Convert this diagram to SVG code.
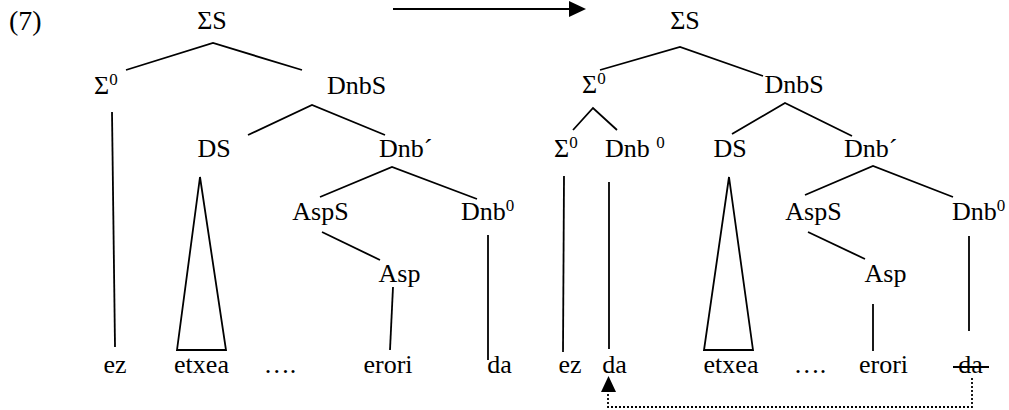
<svg xmlns="http://www.w3.org/2000/svg" width="1009" height="410" viewBox="0 0 1009 410">
<style>
text{font-family:"Liberation Serif","Times New Roman",serif;font-size:26px;fill:#000}
.m{text-anchor:middle}
.sup{font-size:17px}
line,polyline,polygon.tri{stroke:#000;stroke-width:1.8;fill:none}
</style>
<rect width="1009" height="410" fill="#fff"/>
<text x="9" y="30" style="font-size:28px">(7)</text>
<g id="arrow"><line x1="393" y1="9" x2="572" y2="9" stroke-width="3.5"/><polygon points="569,1 586,9 569,17" fill="#000"/></g>

<g id="left-nodes">
<g id="L-SigmaS"><text class="m" x="212" y="29">ΣS</text></g>
<g id="L-Sigma0"><text x="94" y="94">Σ<tspan class="sup" dy="-9">0</tspan></text></g>
<g id="L-DnbS"><text x="327" y="94">DnbS</text></g>
<g id="L-DS"><text class="m" x="214" y="157">DS</text></g>
<g id="L-DnbBar"><text x="379" y="157">Dnb´</text></g>
<g id="L-AspS"><text class="m" x="320.5" y="220">AspS</text></g>
<g id="L-Dnb0"><text x="461" y="220">Dnb<tspan class="sup" dy="-9">0</tspan></text></g>
<g id="L-Asp"><text class="m" x="399.5" y="282">Asp</text></g>
<g id="L-ez"><text class="m" x="115" y="373">ez</text></g>
<g id="L-etxea"><text class="m" x="201.5" y="373">etxea</text></g>
<g id="L-dots"><text class="m" x="280" y="373">….</text></g>
<g id="L-erori"><text class="m" x="388" y="373">erori</text></g>
<g id="L-da"><text class="m" x="499.5" y="373">da</text></g>
</g>

<g id="right-nodes">
<g id="R-SigmaS"><text class="m" x="685" y="29">ΣS</text></g>
<g id="R-Sigma0"><text x="582" y="93">Σ<tspan class="sup" dy="-9">0</tspan></text></g>
<g id="R-DnbS"><text class="m" x="794" y="93">DnbS</text></g>
<g id="R-Sigma0b"><text x="554" y="157">Σ<tspan class="sup" dy="-9">0</tspan></text></g>
<g id="R-Dnb0a"><text x="605" y="157">Dnb <tspan class="sup" dy="-9">0</tspan></text></g>
<g id="R-DS"><text class="m" x="730" y="157">DS</text></g>
<g id="R-DnbBar"><text x="844" y="157">Dnb´</text></g>
<g id="R-AspS"><text class="m" x="813.5" y="220">AspS</text></g>
<g id="R-Dnb0"><text x="952" y="220">Dnb<tspan class="sup" dy="-9">0</tspan></text></g>
<g id="R-Asp"><text class="m" x="885.5" y="282">Asp</text></g>
<g id="R-ez"><text class="m" x="570" y="373">ez</text></g>
<g id="R-da"><text class="m" x="614.5" y="373">da</text></g>
<g id="R-etxea"><text class="m" x="731" y="373">etxea</text></g>
<g id="R-dots"><text class="m" x="810" y="373">….</text></g>
<g id="R-erori"><text class="m" x="883.5" y="373">erori</text></g>
<g id="R-da2"><text class="m" x="970.5" y="373">da</text><line x1="953" y1="367" x2="989" y2="367"/></g>
</g>

<g id="connectors">
<polyline points="126,70 213,43 302,70"/>
<line x1="112" y1="112" x2="115" y2="347"/>
<polyline points="248,135 312,105 385,135"/>
<polygon class="tri" points="200,177 177,350 226,350"/>
<polyline points="320,197 392,167 477,199"/>
<line x1="322" y1="232" x2="380" y2="260"/>
<line x1="393" y1="287" x2="390" y2="350"/>
<line x1="488" y1="235" x2="488" y2="360"/>
<polyline points="600,70 680,47 763,76"/>
<polyline points="573,130 593,108 617,130"/>
<line x1="564" y1="176" x2="563" y2="352"/>
<line x1="609" y1="182" x2="609" y2="349"/>
<polyline points="732,134 785,103 852,136"/>
<polygon class="tri" points="729,177 704,350 753,350"/>
<polyline points="805,195 873,166 953,197"/>
<line x1="808" y1="232" x2="865" y2="259"/>
<line x1="873" y1="304" x2="873" y2="351"/>
<line x1="969" y1="236" x2="969" y2="331"/>
<polyline points="972,378 972,407 608,407 608,390" stroke-dasharray="2,2" stroke-width="2"/>
<polygon points="601,392 616,392 608.5,376" fill="#000"/>
</g>
</svg>
